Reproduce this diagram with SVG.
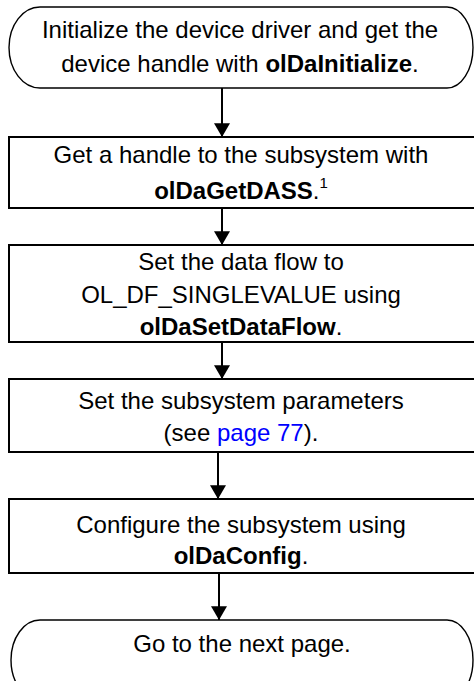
<svg xmlns="http://www.w3.org/2000/svg" width="474" height="681" viewBox="0 0 474 681">
<defs>
<marker id="ah" markerUnits="userSpaceOnUse" markerWidth="14" markerHeight="16" refX="13" refY="7.5" orient="auto" viewBox="0 0 13 15">
<path d="M0,0 L13,7.5 L0,15 Z" fill="#000"/>
</marker>
</defs>
<style>
text{font-family:"Liberation Sans",Arial,sans-serif;font-size:24px;fill:#000;text-anchor:middle}
.b{font-weight:bold}
.lnk{fill:#0000ff}
.box{fill:#fff;stroke:#000;stroke-width:2}
.term{fill:#fff;stroke:#000;stroke-width:1.4}
.con{stroke:#000;stroke-width:2;fill:none}
</style>
<rect width="474" height="681" fill="#fff"/>
<g id="connectors">
<line class="con" x1="222" y1="88" x2="222" y2="137" marker-end="url(#ah)"/>
<line class="con" x1="222" y1="208" x2="222" y2="245" marker-end="url(#ah)"/>
<line class="con" x1="222" y1="342" x2="222" y2="379" marker-end="url(#ah)"/>
<line class="con" x1="218" y1="452" x2="218" y2="499" marker-end="url(#ah)"/>
<line class="con" x1="219" y1="573" x2="219" y2="620" marker-end="url(#ah)"/>
</g>
<g id="start">
<path class="term" d="M40,7 H447 A26,40.5 0 0 1 447,88 H40 A31,40.5 0 0 1 40,7 Z"/>
<text x="240" y="38">Initialize the device driver and get the</text>
<text x="240" y="72">device handle with <tspan class="b">olDaInitialize</tspan>.</text>
</g>
<g id="getdass">
<rect class="box" x="9" y="137" width="475" height="71"/>
<text x="241" y="163">Get a handle to the subsystem with</text>
<text x="241" y="199"><tspan class="b">olDaGetDASS</tspan>.<tspan font-size="15" dy="-11">1</tspan></text>
</g>
<g id="dataflow">
<rect class="box" x="9" y="245" width="475" height="97"/>
<text x="241" y="270">Set the data flow to</text>
<text x="241" y="303">OL_DF_SINGLEVALUE using</text>
<text x="241" y="335"><tspan class="b">olDaSetDataFlow</tspan>.</text>
</g>
<g id="params">
<rect class="box" x="9" y="379" width="475" height="73"/>
<text x="241" y="409">Set the subsystem parameters</text>
<text x="241" y="441">(see <tspan class="lnk">page 77</tspan>).</text>
</g>
<g id="config">
<rect class="box" x="9" y="499" width="475" height="74"/>
<text x="241" y="533">Configure the subsystem using</text>
<text x="241" y="564"><tspan class="b">olDaConfig</tspan>.</text>
</g>
<g id="end">
<path class="term" d="M40,620 H447 A26,40 0 0 1 447,700 H40 A29,40 0 0 1 40,620 Z"/>
<text x="242" y="652">Go to the next page.</text>
</g>
</svg>
